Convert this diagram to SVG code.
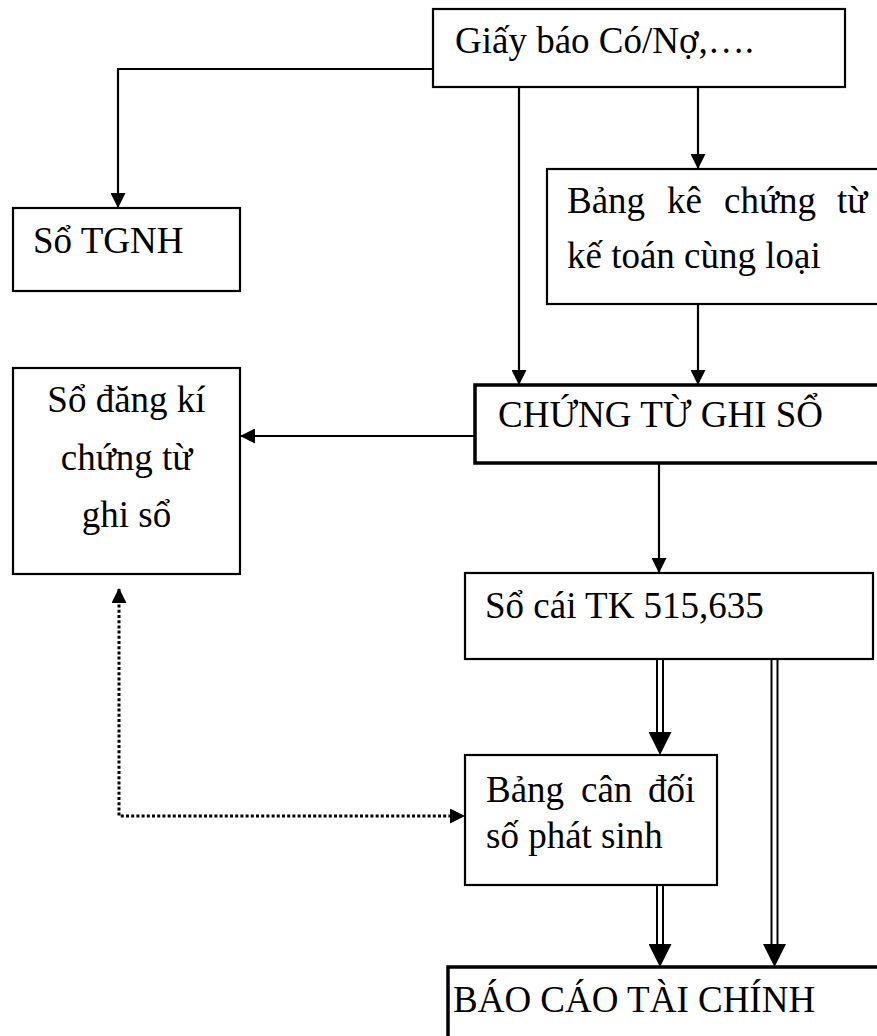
<svg xmlns="http://www.w3.org/2000/svg" width="877" height="1036" viewBox="0 0 877 1036">
<style>
  .box{fill:#fff;stroke:#000;stroke-width:2.2}
  .thick{fill:#fff;stroke:#000;stroke-width:3.5}
  .t{font-family:"Liberation Serif","Times New Roman",serif;font-size:37px;fill:#000}
  .c{fill:none;stroke:#000;stroke-width:2.2}
  .dl{fill:none;stroke:#000;stroke-width:2}
  .dot{fill:none;stroke:#000;stroke-width:3;stroke-dasharray:3 2.2}
</style>
<defs>
  <marker id="ah" viewBox="0 0 15 15" refX="14" refY="7.5" markerWidth="15" markerHeight="15" markerUnits="userSpaceOnUse" orient="auto-start-reverse">
    <path d="M0,0 L15,7.5 L0,15 z" fill="#000"/>
  </marker>
  <marker id="ahb" viewBox="0 0 23 23" refX="22" refY="11.5" markerWidth="23" markerHeight="23" markerUnits="userSpaceOnUse" orient="auto">
    <path d="M0,0 L23,11.5 L0,23 z" fill="#000"/>
  </marker>
</defs>
<rect width="877" height="1036" fill="#fff"/>

<g id="connectors">
  <path class="c" d="M433,69 H118 V207" marker-end="url(#ah)"/>
  <path class="c" d="M519,87 V384" marker-end="url(#ah)"/>
  <path class="c" d="M698,87 V168" marker-end="url(#ah)"/>
  <path class="c" d="M698,304 V384" marker-end="url(#ah)"/>
  <path class="c" d="M475,436 H241" marker-end="url(#ah)"/>
  <path class="c" d="M659,463 V572" marker-end="url(#ah)"/>
  <g id="dbl1">
    <path class="dl" d="M657,659 V740 M663,659 V740"/>
    <path d="M660,735 V754" style="fill:none;stroke:none" marker-end="url(#ahb)"/>
  </g>
  <g id="dbl2">
    <path class="dl" d="M771.5,659 V950 M777.5,659 V950"/>
    <path d="M774.5,945 V966" style="fill:none;stroke:none" marker-end="url(#ahb)"/>
  </g>
  <g id="dbl3">
    <path class="dl" d="M657,885 V950 M663,885 V950"/>
    <path d="M660,945 V966" style="fill:none;stroke:none" marker-end="url(#ahb)"/>
  </g>
  <path class="dot" d="M119,589 V816 H464" marker-start="url(#ah)" marker-end="url(#ah)"/>
</g>

<g id="n-giay">
  <rect class="box" x="433" y="9" width="412" height="78"/>
  <text class="t" x="455" y="53">Giấy báo Có/Nợ,….</text>
</g>
<g id="n-sotgnh">
  <rect class="box" x="13" y="208" width="227" height="83"/>
  <text class="t" x="33" y="253">Sổ TGNH</text>
</g>
<g id="n-bangke">
  <rect class="box" x="547" y="169" width="350" height="135"/>
  <text class="t" y="213"><tspan x="567">Bảng</tspan><tspan x="667">kê</tspan><tspan x="724">chứng</tspan><tspan x="837">từ</tspan></text>
  <text class="t" x="567" y="268">kế toán cùng loại</text>
</g>
<g id="n-ctgs">
  <rect class="thick" x="475" y="385" width="420" height="78"/>
  <text class="t" x="498" y="427">CHỨNG TỪ GHI SỔ</text>
</g>
<g id="n-sodk">
  <rect class="box" x="13" y="368" width="227" height="206"/>
  <text class="t" text-anchor="middle" x="126.5" y="412">Sổ đăng kí</text>
  <text class="t" text-anchor="middle" x="126.5" y="470">chứng từ</text>
  <text class="t" text-anchor="middle" x="126.5" y="527">ghi sổ</text>
</g>
<g id="n-socai">
  <rect class="box" x="465" y="573" width="408" height="86"/>
  <text class="t" x="485" y="618">Sổ cái TK 515,635</text>
</g>
<g id="n-bcd">
  <rect class="box" x="465" y="755" width="252" height="130"/>
  <text class="t" y="802"><tspan x="486">Bảng</tspan><tspan x="581">cân</tspan><tspan x="648">đối</tspan></text>
  <text class="t" x="486" y="848">số phát sinh</text>
</g>
<g id="n-bctc">
  <rect class="thick" x="448" y="967" width="450" height="100"/>
  <text class="t" x="453" y="1012">BÁO CÁO TÀI CHÍNH</text>
</g>
</svg>
